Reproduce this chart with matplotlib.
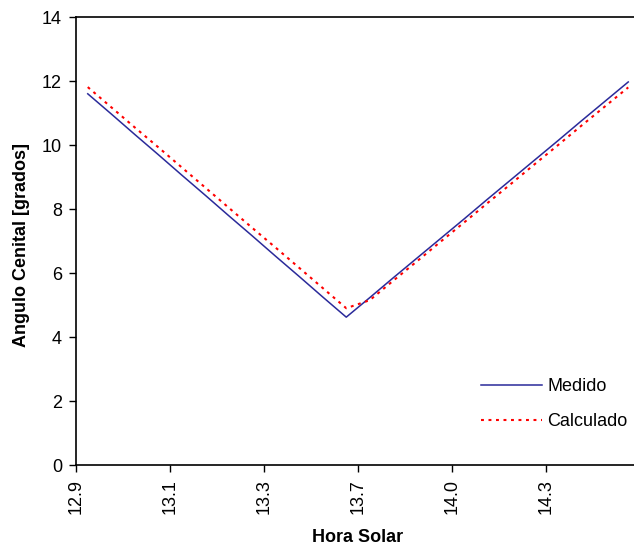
import numpy as np
import matplotlib
matplotlib.use("Agg")
import matplotlib.pyplot as plt

plt.rcParams['font.family'] = ['Liberation Sans', 'DejaVu Sans']

# readings per sample (category axis, one label every 4 samples)
medido = [11.60, 10.97, 10.33, 9.70, 9.06, 8.43, 7.79, 7.16, 6.52, 5.89, 5.25, 4.62,
          5.23, 5.85, 6.46, 7.07, 7.68, 8.30, 8.91, 9.52, 10.13, 10.75, 11.36, 11.97]
calculado = [11.81, 11.18, 10.55, 9.93, 9.30, 8.67, 8.04, 7.41, 6.79, 6.16, 5.53, 4.90,
             5.15, 5.76, 6.36, 6.97, 7.57, 8.18, 8.78, 9.39, 9.99, 10.60, 11.20, 11.80]
hora_labels = ["12.9", "13.1", "13.3", "13.7", "14.0", "14.3"]
label_step = 4

W, H = 634, 548
fig = plt.figure(figsize=(W / 100, H / 100), dpi=100)
n = len(medido)
cat_w = 23.5
ax = fig.add_axes([76 / W, 83 / H, n * cat_w / W, 448 / H])

x = np.arange(n)
ax.plot(x, medido, color='#2a2a9a', lw=1.1, label='Medido')
ax.plot(x, calculado, color='#ff0000', lw=1.5, dashes=(1.4, 2.2), label='Calculado')

ax.set_xlim(-0.5, n - 0.5)
ax.set_ylim(0, 14)
ax.set_yticks(np.arange(0, 15, 2))
ax.set_xticks(np.arange(len(hora_labels)) * label_step - 0.5)
ax.set_xticklabels(hora_labels, rotation=90)

ax.tick_params(axis='both', direction='out', length=5, width=1, colors='black',
               labelsize=13, pad=5)
ax.tick_params(axis='x', pad=5)
for s in ['left', 'top', 'bottom', 'right']:
    ax.spines[s].set_color('black')
    ax.spines[s].set_linewidth(1.2)

ax.set_xlabel('Hora Solar', fontsize=13, fontweight='bold', labelpad=11)
fig.text(22 / W, 1 - 245 / H, 'Angulo Cenital [grados]', rotation=90,
         fontsize=13, fontweight='bold', ha='center', va='center')

ax.legend(loc='center left', bbox_to_anchor=(481 / W, 1 - 404 / H),
          bbox_transform=fig.transFigure, frameon=False, fontsize=13,
          borderpad=0, borderaxespad=0, handlelength=3.4, handletextpad=0.28,
          labelspacing=1.0)

fig.savefig('out.png', dpi=100)
